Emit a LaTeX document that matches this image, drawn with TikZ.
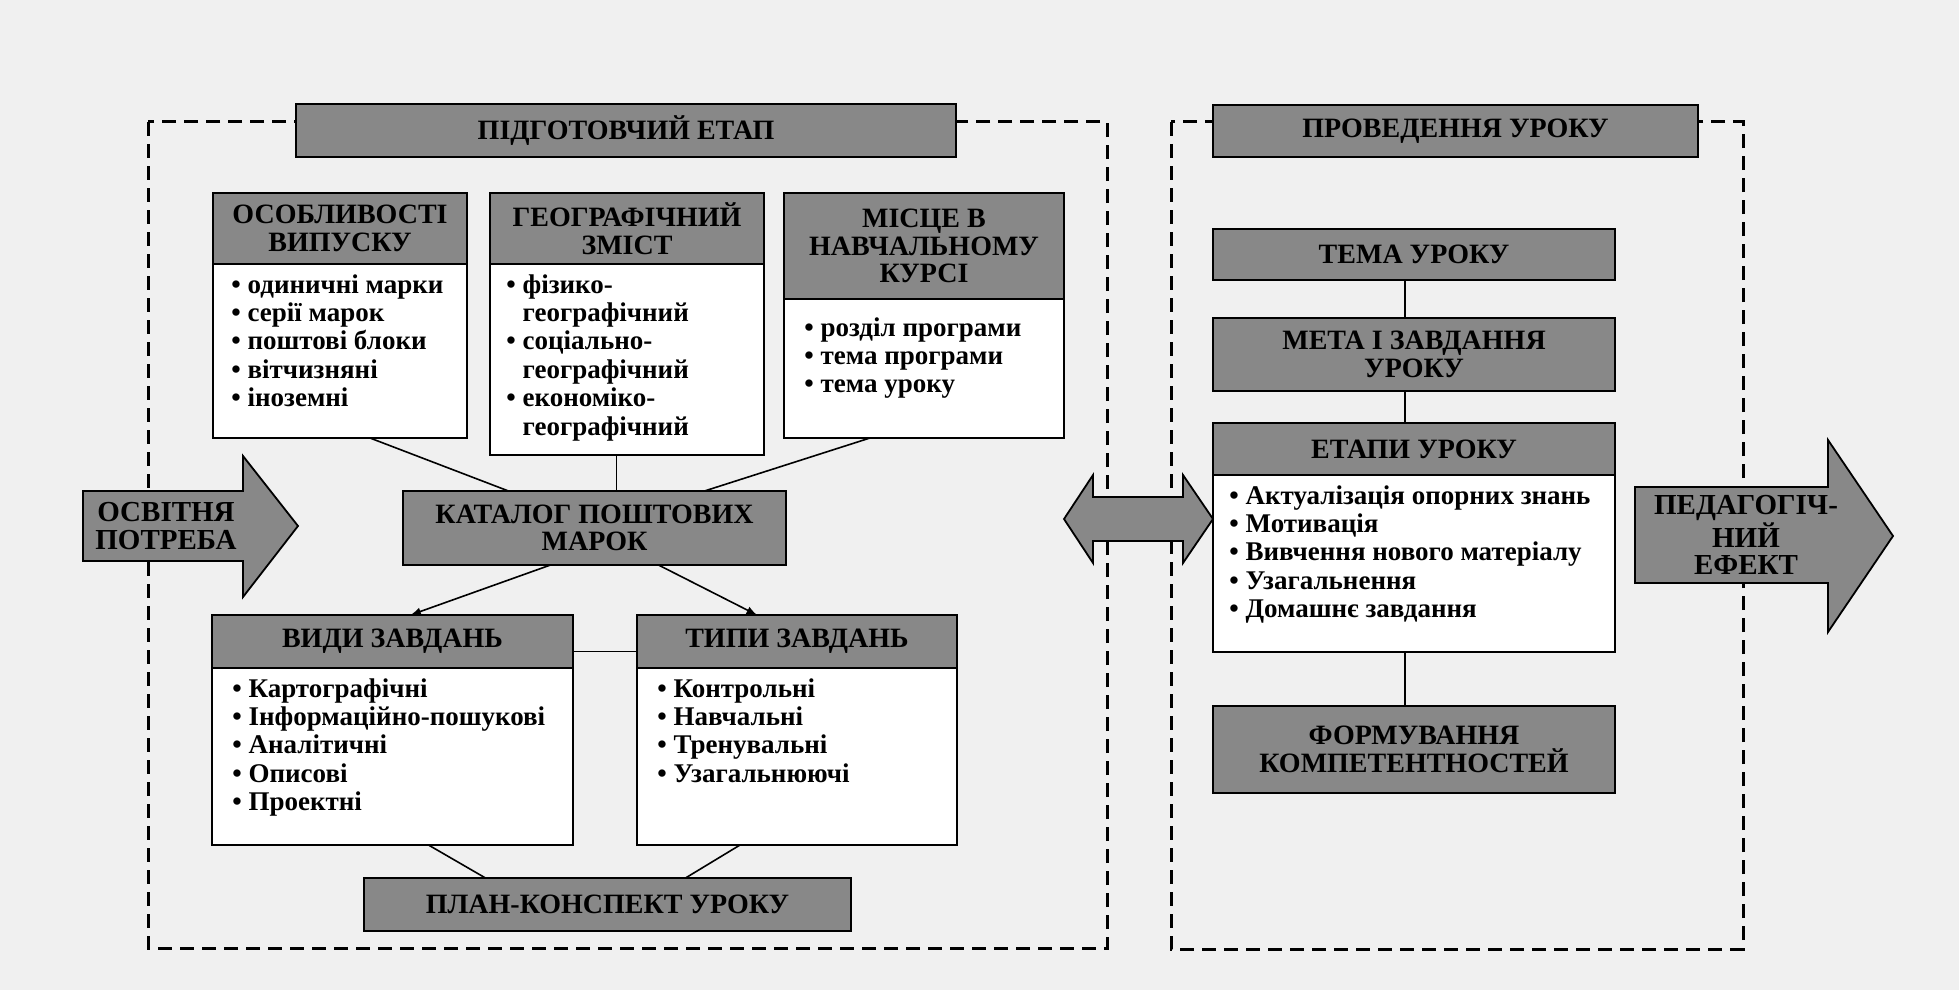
\documentclass[tikz,border=0pt]{standalone}
\usepackage{fontspec}
\setmainfont{Liberation Serif}
\usetikzlibrary{positioning,arrows}

\definecolor{hdrgray}{RGB}{136,136,136}
\definecolor{pagegray}{RGB}{240,240,240}

\tikzset{
  frame/.style={draw, dash pattern=on 7pt off 4pt, line width=1.5pt},
  hdr/.style={draw, fill=hdrgray, line width=0.9pt, outer sep=0pt, align=center, inner sep=2pt,
    font=\fontsize{14}{13.75}\selectfont\bfseries},
  body/.style={draw, fill=white, line width=0.9pt, outer sep=0pt},
  items/.style={align=left, inner sep=0pt, anchor=north west,
    font=\fontsize{13.5}{14.2}\selectfont\bfseries},
  link/.style={line width=0.8pt},
  bigarrow/.style={draw, fill=hdrgray, line width=0.9pt},
  arrtext/.style={align=center, inner sep=0pt, font=\fontsize{14.5}{13.75}\selectfont\bfseries}
}

\begin{document}
\begin{tikzpicture}[x=0.5pt, y=-0.5pt]
  \fill[pagegray] (0,0) rectangle (1959,990);

  % dashed frames
  \draw[frame] (148,122) rectangle (1107,948);
  \draw[frame] (1171,122) rectangle (1743,949);

  % preparatory stage
  \node[hdr, minimum width=330pt, minimum height=26.5pt] (pidg) at (626,130.5) {ПІДГОТОВЧИЙ ЕТАП};

  \node[hdr, minimum width=127pt, minimum height=35.5pt] (osobl) at (340,228.5) {ОСОБЛИВОСТІ\\ВИПУСКУ};
  \node[body, minimum width=127pt, minimum height=87pt, below=0pt of osobl] (osoblb) {};
  \node[items] (osobli) at ([shift={(9pt,-5pt)}]osoblb.north west)
    {\textbullet\ одиничні марки\\\textbullet\ серії марок\\\textbullet\ поштові блоки\\\textbullet\ вітчизняні\\\textbullet\ іноземні};

  \node[hdr, minimum width=137pt, minimum height=35.5pt] (geo) at (627,228.5) {ГЕОГРАФІЧНИЙ\\ЗМІСТ};
  \node[body, minimum width=137pt, minimum height=95.5pt, below=0pt of geo] (geob) {};
  \node[items] (geoi) at ([shift={(8pt,-5pt)}]geob.north west)
    {\textbullet\ фізико-\\\phantom{\textbullet\ }географічний\\\textbullet\ соціально-\\\phantom{\textbullet\ }географічний\\\textbullet\ економіко-\\\phantom{\textbullet\ }географічний};

  \node[hdr, minimum width=140pt, minimum height=53pt] (misce) at (924,246) {МІСЦЕ В\\НАВЧАЛЬНОМУ\\КУРСІ};
  \node[body, minimum width=140pt, minimum height=69.5pt, below=0pt of misce] (misceb) {};
  \node[items] (miscei) at ([shift={(10pt,-9pt)}]misceb.north west)
    {\textbullet\ розділ програми\\\textbullet\ тема програми\\\textbullet\ тема уроку};

  \node[hdr, minimum width=191.5pt, minimum height=37pt] (katalog) at (594.5,528) {КАТАЛОГ ПОШТОВИХ\\МАРОК};

  \node[hdr, minimum width=180.5pt, minimum height=26.5pt] (vydy) at (392.5,641.5) {ВИДИ ЗАВДАНЬ};
  \node[body, minimum width=180.5pt, minimum height=88.5pt, below=0pt of vydy] (vydyb) {};
  \node[items] (vydyi) at ([shift={(10pt,-5pt)}]vydyb.north west)
    {\textbullet\ Картографічні\\\textbullet\ Інформаційно-пошукові\\\textbullet\ Аналітичні\\\textbullet\ Описові\\\textbullet\ Проектні};

  \node[hdr, minimum width=160pt, minimum height=26.5pt] (typy) at (797,641.5) {ТИПИ ЗАВДАНЬ};
  \node[body, minimum width=160pt, minimum height=88.5pt, below=0pt of typy] (typyb) {};
  \node[items] (typyi) at ([shift={(10pt,-5pt)}]typyb.north west)
    {\textbullet\ Контрольні\\\textbullet\ Навчальні\\\textbullet\ Тренувальні\\\textbullet\ Узагальнюючі};

  \node[hdr, minimum width=243.5pt, minimum height=26.5pt] (plan) at (607.5,904.5) {ПЛАН-КОНСПЕКТ УРОКУ};

  \draw[link] ([xshift=15pt]osoblb.south) -- ([xshift=-43pt]katalog.north);
  \draw[link] ([xshift=11pt]katalog.north) -- ([xshift=11pt]katalog.north |- geob.south);
  \draw[link] ([xshift=-27pt]misceb.south) -- ([xshift=55pt]katalog.north);
  \draw[link, -latex] ([xshift=-22pt]katalog.south) -- ([xshift=9pt]vydy.north);
  \draw[link, -latex] ([xshift=32pt]katalog.south) -- ([xshift=-20pt]typy.north);
  \draw[link] ([yshift=-5pt]vydy.east) -- ([yshift=-5pt]typy.west);
  \draw[link] ([xshift=18pt]vydyb.south) -- ([xshift=-61pt]plan.north);
  \draw[link] ([xshift=-28.5pt]typyb.south) -- ([xshift=39pt]plan.north);

  % lesson
  \node[hdr, minimum width=242.5pt, minimum height=26pt] (proved) at (1455.5,131) {ПРОВЕДЕННЯ УРОКУ};
  \node[hdr, minimum width=201pt, minimum height=25.5pt] (tema) at (1414,254.5) {ТЕМА УРОКУ};
  \node[hdr, minimum width=201pt, minimum height=36.5pt] (meta) at (1414,354.5) {МЕТА І ЗАВДАННЯ\\УРОКУ};
  \node[hdr, minimum width=201pt, minimum height=26pt] (etapy) at (1414,449) {ЕТАПИ УРОКУ};
  \node[body, minimum width=201pt, minimum height=88.5pt, below=0pt of etapy] (etapyb) {};
  \node[items] (etapyi) at ([shift={(8pt,-5pt)}]etapyb.north west)
    {\textbullet\ Актуалізація опорних знань\\\textbullet\ Мотивація\\\textbullet\ Вивчення нового матеріалу\\\textbullet\ Узагальнення\\\textbullet\ Домашнє завдання};
  \node[hdr, minimum width=201pt, minimum height=43.5pt] (form) at (1414,749.5) {ФОРМУВАННЯ\\КОМПЕТЕНТНОСТЕЙ};

  \draw[link] ([xshift=-4.5pt]tema.south) -- ([xshift=-4.5pt]meta.north);
  \draw[link] ([xshift=-4.5pt]meta.south) -- ([xshift=-4.5pt]etapy.north);
  \draw[link] ([xshift=-4.5pt]etapyb.south) -- ([xshift=-4.5pt]form.north);

  % block arrows
  \draw[bigarrow] (83,491) -- (243,491) -- (243,456) -- (298,526) -- (243,597) -- (243,561) -- (83,561) -- cycle;
  \node[arrtext] (potreba) at (166,526) {ОСВІТНЯ\\ПОТРЕБА};

  \draw[bigarrow] (1064,519) -- (1093,475) -- (1093,497) -- (1183,497) -- (1183,475) -- (1213,519)
    -- (1183,563) -- (1183,541) -- (1093,541) -- (1093,563) -- cycle;

  \draw[bigarrow] (1635,487) -- (1828,487) -- (1828,440) -- (1893,536) -- (1828,632) -- (1828,583) -- (1635,583) -- cycle;
  \node[arrtext] (efekt) at (1746,535) {ПЕДАГОГІЧ-\\НИЙ\\ЕФЕКТ};
\end{tikzpicture}
\end{document}
